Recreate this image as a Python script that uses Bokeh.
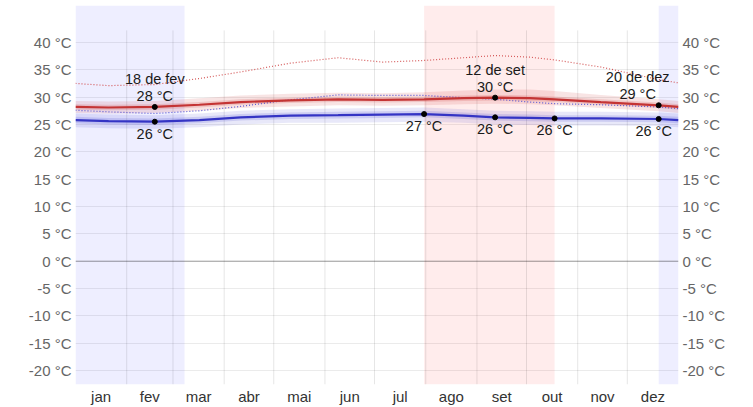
from bokeh.plotting import figure
from bokeh.models import Range1d, LinearAxis, FixedTicker, ColumnDataSource, Span
from bokeh.core.properties import value
from bokeh.embed import file_html
from bokeh.resources import INLINE

# ---- data ----
months = ["jan", "fev", "mar", "abr", "mai", "jun", "jul", "ago", "set", "out", "nov", "dez"]
month_starts = [0, 31, 59, 90, 120, 151, 181, 212, 243, 273, 304, 334, 365]
y_ticks = [-20, -15, -10, -5, 0, 5, 10, 15, 20, 25, 30, 35, 40]

days = [0, 20, 48, 75, 100, 130, 159, 186, 211, 235, 254, 275, 290, 318, 353, 365]
high = [28.2, 28.1, 28.2, 28.6, 29.1, 29.4, 29.6, 29.5, 29.6, 29.8, 29.9, 29.8, 29.6, 29.1, 28.5, 28.2]
high_p25 = [27.7, 27.6, 27.7, 28.1, 28.6, 28.9, 29.1, 29.0, 29.1, 29.3, 29.4, 29.3, 29.1, 28.6, 28.0, 27.7]
high_p75 = [28.7, 28.6, 28.7, 29.1, 29.6, 29.9, 30.1, 30.0, 30.1, 30.3, 30.4, 30.3, 30.1, 29.6, 29.0, 28.7]
high_p10 = [27.1, 27.0, 27.1, 27.5, 28.0, 28.3, 28.5, 28.4, 28.5, 28.7, 28.8, 28.7, 28.5, 28.0, 27.4, 27.1]
high_p90 = [29.3, 29.2, 29.3, 29.8, 30.3, 30.6, 30.8, 30.7, 30.9, 31.2, 31.4, 31.4, 31.1, 30.4, 29.6, 29.3]

low = [25.8, 25.6, 25.5, 25.8, 26.3, 26.6, 26.7, 26.8, 26.9, 26.6, 26.3, 26.2, 26.1, 26.1, 26.0, 25.8]
low_p25 = [25.2, 25.0, 24.9, 25.2, 25.7, 26.0, 26.1, 26.2, 26.3, 26.0, 25.7, 25.6, 25.5, 25.5, 25.4, 25.2]
low_p75 = [26.4, 26.2, 26.1, 26.4, 26.9, 27.2, 27.3, 27.4, 27.5, 27.2, 26.9, 26.8, 26.7, 26.7, 26.6, 26.4]
low_p10 = [24.5, 24.3, 24.2, 24.5, 25.0, 25.3, 25.3, 25.4, 25.5, 25.3, 25.0, 24.9, 24.8, 24.8, 24.7, 24.5]
low_p90 = [27.0, 26.8, 26.7, 27.0, 27.5, 27.8, 27.9, 28.0, 28.1, 27.8, 27.5, 27.4, 27.3, 27.3, 27.2, 27.0]

feels_high = [32.5, 32.1, 32.3, 33.4, 34.6, 36.2, 37.2, 36.4, 36.7, 37.2, 37.6, 37.3, 36.8, 35.5, 33.2, 32.6]
feels_low = [27.6, 27.3, 27.0, 27.5, 28.3, 29.5, 30.4, 30.3, 30.3, 29.9, 29.6, 29.1, 28.8, 28.6, 28.2, 27.9]

cool_start = [0, 353]
cool_end = [66, 365]
hot_start = [211]
hot_end = [290]

ann_high_day = [48, 254, 353]
ann_high_val = [28.2, 29.9, 28.5]
ann_high_date = ["18 de fev", "12 de set", "20 de dez"]
ann_high_text = ["28 °C", "30 °C", "29 °C"]
ann_low_day = [48, 211, 254, 290, 353]
ann_low_val = [25.5, 26.9, 26.3, 26.1, 26.0]
ann_low_text = ["26 °C", "27 °C", "26 °C", "26 °C", "26 °C"]

# ---- figure ----
y_lo, y_hi = -22.55, 46.75
p = figure(width=753, height=407, x_range=Range1d(0, 365), y_range=Range1d(y_lo, y_hi),
           output_backend="svg", toolbar_location=None,
           min_border_left=75, min_border_right=75, min_border_top=5, min_border_bottom=22)
p.outline_line_color = None
p.background_fill_color = "white"
p.border_fill_color = "white"

FONT = "Liberation Sans"

# shaded seasons
p.quad(left=cool_start, right=cool_end, bottom=y_lo, top=y_hi, fill_color="#0000ff", fill_alpha=0.067, line_color=None)
p.quad(left=hot_start, right=hot_end, bottom=y_lo, top=y_hi, fill_color="#ff0000", fill_alpha=0.075, line_color=None)

# vertical month grid lines
p.segment(x0=month_starts[1:-1], x1=month_starts[1:-1], y0=y_lo, y1=42.2, line_color="#000000", line_alpha=0.1, line_width=1)

# horizontal grid
p.xgrid.visible = False
p.ygrid.ticker = FixedTicker(ticks=y_ticks)
p.ygrid.grid_line_color = "#000000"
p.ygrid.grid_line_alpha = 0.08
p.add_layout(Span(location=0, dimension="width", line_color="#000000", line_alpha=0.35, line_width=1))

# bands
p.varea(x=days, y1=high_p10, y2=high_p90, fill_color="#c83232", fill_alpha=0.13)
p.varea(x=days, y1=high_p25, y2=high_p75, fill_color="#c83232", fill_alpha=0.17)
p.varea(x=days, y1=low_p10, y2=low_p90, fill_color="#3232c8", fill_alpha=0.11)
p.varea(x=days, y1=low_p25, y2=low_p75, fill_color="#3232c8", fill_alpha=0.15)

# perceived (dotted)
p.line(days, feels_high, line_color="#d04848", line_width=1.2, line_dash="1 2", line_alpha=0.9)
p.line(days, feels_low, line_color="#4848d0", line_width=1.2, line_dash="1 2", line_alpha=0.9)

# averages
p.line(days, high, line_color="#c43434", line_width=2.2)
p.line(days, low, line_color="#3434c4", line_width=2.2)

# annotation points
p.scatter(ann_high_day, ann_high_val, size=5, color="black")
p.scatter(ann_low_day, ann_low_val, size=5, color="black")

hs = ColumnDataSource(dict(x=ann_high_day, y=ann_high_val, d=ann_high_date, t=ann_high_text, xo=[0, 0, -21]))
ls = ColumnDataSource(dict(x=ann_low_day, y=ann_low_val, t=ann_low_text, xo=[0, 0, 0, 0, -5]))
common = dict(text_align="center", text_baseline="middle", text_font=value(FONT),
              text_font_size="14.5px", text_color="#1a1a1a")
p.text(x="x", y="y", text="d", source=hs, x_offset="xo", y_offset=-28, **common)
p.text(x="x", y="y", text="t", source=hs, x_offset="xo", y_offset=-11, **common)
p.text(x="x", y="y", text="t", source=ls, x_offset="xo", y_offset=12, **common)

# axes
mid = [(month_starts[i] + month_starts[i + 1]) / 2 for i in range(12)]
p.xaxis.ticker = FixedTicker(ticks=mid)
p.xaxis.major_label_overrides = {m: lab for m, lab in zip(mid, months)}
labels_y = {v: f"{v} °C" for v in y_ticks}
p.yaxis.ticker = FixedTicker(ticks=y_ticks)
p.yaxis.major_label_overrides = labels_y
right = LinearAxis(ticker=FixedTicker(ticks=y_ticks), major_label_overrides=labels_y)
p.add_layout(right, "right")
for ax in [p.xaxis[0], p.yaxis[0], right]:
    ax.axis_line_color = None
    ax.major_tick_line_color = None
    ax.minor_tick_line_color = None
    ax.major_tick_out = 0
    ax.major_tick_in = 0
    ax.major_label_text_font = FONT
    ax.major_label_text_font_size = "15px"
    ax.major_label_text_color = "#666666"
    ax.major_label_standoff = 4
p.xaxis[0].major_label_text_color = "#333333"
p.xaxis[0].major_label_standoff = 3

open("out.html", "w").write(file_html(p, INLINE))
